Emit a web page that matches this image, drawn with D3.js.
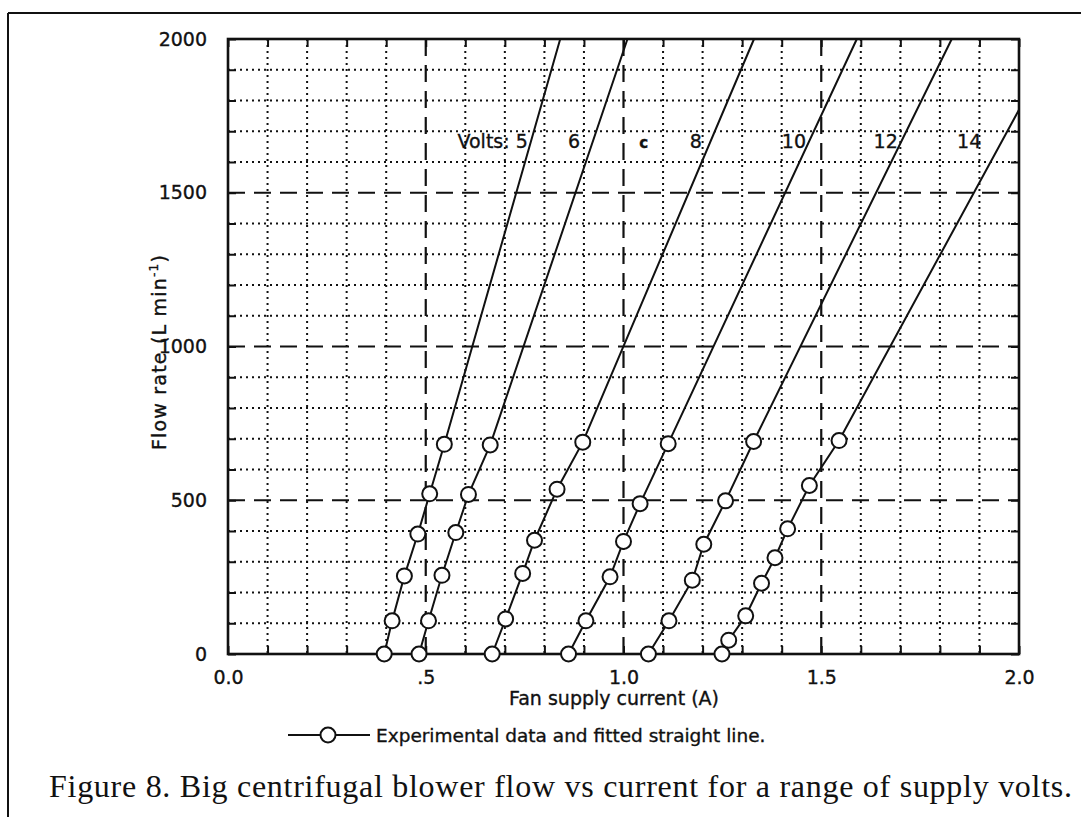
<!DOCTYPE html>
<html>
<head>
<meta charset="utf-8">
<script src="https://cdn.jsdelivr.net/npm/d3@7"></script>
<style>
  body { margin: 0; background: #fff; }
  text { font-family: "DejaVu Sans", "Liberation Sans", Arial, sans-serif; fill: #111; }
  text.sans { stroke: #111; stroke-width: 0.35px; }
</style>
</head>
<body>
<div id="chart"></div>
<script>
// values (current in A, flow in L/min)
const amps5 = [0.395, 0.415, 0.446, 0.480, 0.510, 0.547];
const flow5 = [0, 108, 254, 390, 521, 682];
const amps6 = [0.483, 0.507, 0.541, 0.576, 0.608, 0.663];
const flow6 = [0, 108, 256, 395, 519, 680];
const amps8 = [0.668, 0.702, 0.745, 0.775, 0.832, 0.897];
const flow8 = [0, 114, 262, 370, 536, 689];
const amps10 = [0.861, 0.905, 0.966, 1.0, 1.042, 1.113];
const flow10 = [0, 108, 251, 366, 489, 684];
const amps12 = [1.063, 1.115, 1.174, 1.203, 1.258, 1.329];
const flow12 = [0, 108, 240, 357, 498, 691];
const amps14 = [1.249, 1.266, 1.309, 1.349, 1.383, 1.415, 1.470, 1.545];
const flow14 = [0, 45, 124, 230, 313, 407, 548, 694];

// where each fitted straight line leaves the plot
const fitEndAmps = [0.84, 1.01, 1.33, 1.59, 1.83, 2.0];
const fitEndFlow = [2000, 2000, 2000, 2000, 2000, 1770];

const volts = [5, 6, 8, 10, 12, 14];

// curve labels
const labelText = ["Volts: 5", "6", "c", "8", "10", "12", "14"];
const labelAmps = [0.758, 0.875, 1.051, 1.183, 1.431, 1.663, 1.874];
const labelFlow = 1645;

const xTickValues = [0, 0.5, 1.0, 1.5, 2.0];
const xTickLabels = ["0.0", ".5", "1.0", "1.5", "2.0"];
const yTickValues = [0, 500, 1000, 1500, 2000];
const yTickLabels = ["0", "500", "1000", "1500", "2000"];

const W = 1081, H = 817;
const svg = d3.select("#chart").append("svg")
  .attr("width", W).attr("height", H);

// page frame (top and left edges of the scanned box)
svg.append("line").attr("x1", 8).attr("y1", 13).attr("x2", W).attr("y2", 13)
  .attr("stroke", "#111").attr("stroke-width", 2);
svg.append("line").attr("x1", 8).attr("y1", 13).attr("x2", 8).attr("y2", H)
  .attr("stroke", "#111").attr("stroke-width", 2);

const x = d3.scaleLinear().domain([0, 2]).range([228, 1019]);
const y = d3.scaleLinear().domain([0, 2000]).range([654, 39]);

// grid
const minorX = d3.range(1, 20).map(i => i / 10).filter(v => Math.round(v * 10) % 5 !== 0);
const majorX = [0.5, 1.0, 1.5];
const minorY = d3.range(1, 20).map(i => i * 100).filter(v => v % 500 !== 0);
const majorY = [500, 1000, 1500];

const grid = svg.append("g");
grid.selectAll(".vminor").data(minorX).join("line")
  .attr("x1", d => x(d)).attr("x2", d => x(d))
  .attr("y1", y(2000)).attr("y2", y(0))
  .attr("stroke", "#111").attr("stroke-width", 2).attr("stroke-dasharray", "2,4");
grid.selectAll(".hminor").data(minorY).join("line")
  .attr("x1", x(0)).attr("x2", x(2))
  .attr("y1", d => y(d)).attr("y2", d => y(d))
  .attr("stroke", "#111").attr("stroke-width", 2).attr("stroke-dasharray", "2,4");
grid.selectAll(".vmajor").data(majorX).join("line")
  .attr("x1", d => x(d)).attr("x2", d => x(d))
  .attr("y1", y(2000)).attr("y2", y(0))
  .attr("stroke", "#111").attr("stroke-width", 2.2).attr("stroke-dasharray", "17,9");
grid.selectAll(".hmajor").data(majorY).join("line")
  .attr("x1", x(0)).attr("x2", x(2))
  .attr("y1", d => y(d)).attr("y2", d => y(d))
  .attr("stroke", "#111").attr("stroke-width", 2.2).attr("stroke-dasharray", "17,9");

// inward ticks on all four sides
const allX = d3.range(0, 21).map(i => i / 10);
const allY = d3.range(0, 21).map(i => i * 100);
const tickLen = 8;

svg.append("g").attr("transform", `translate(0,${y(0)})`)
  .call(d3.axisBottom(x).tickValues(allX).tickSize(-tickLen).tickSizeOuter(0).tickPadding(17)
    .tickFormat(d => { const i = xTickValues.findIndex(v => Math.abs(v - d) < 1e-6); return i >= 0 ? xTickLabels[i] : ""; }));
svg.append("g").attr("transform", `translate(${x(0)},0)`)
  .call(d3.axisLeft(y).tickValues(allY).tickSize(-tickLen).tickSizeOuter(0).tickPadding(21)
    .tickFormat(d => { const i = yTickValues.indexOf(d); return i >= 0 ? yTickLabels[i] : ""; }));
svg.append("g").attr("transform", `translate(0,${y(2000)})`)
  .call(d3.axisTop(x).tickValues(allX).tickSize(-tickLen).tickSizeOuter(0).tickFormat(""));
svg.append("g").attr("transform", `translate(${x(2)},0)`)
  .call(d3.axisRight(y).tickValues(allY).tickSize(-tickLen).tickSizeOuter(0).tickFormat(""));

svg.selectAll(".domain").remove();
svg.selectAll(".tick line").attr("stroke", "#111").attr("stroke-width", 2);
svg.selectAll(".tick text")
  .attr("class", "sans")
  .style("font-family", "'DejaVu Sans', 'Liberation Sans', Arial, sans-serif")
  .style("font-size", "19px").attr("fill", "#111");

// plot frame
svg.append("rect")
  .attr("x", x(0)).attr("y", y(2000))
  .attr("width", x(2) - x(0)).attr("height", y(0) - y(2000))
  .attr("fill", "none").attr("stroke", "#111").attr("stroke-width", 2.6);

// series
const series = [
  { v: volts[0], a: amps5, f: flow5 },
  { v: volts[1], a: amps6, f: flow6 },
  { v: volts[2], a: amps8, f: flow8 },
  { v: volts[3], a: amps10, f: flow10 },
  { v: volts[4], a: amps12, f: flow12 },
  { v: volts[5], a: amps14, f: flow14 }
].map((s, i) => {
  s.pts = s.a.map((a, j) => ({ a: a, f: s.f[j] }));
  s.line = s.pts.concat([{ a: fitEndAmps[i], f: fitEndFlow[i] }]);
  return s;
});

const lineGen = d3.line().x(d => x(d.a)).y(d => y(d.f));
svg.append("g").selectAll("path").data(series).join("path")
  .attr("d", d => lineGen(d.line))
  .attr("fill", "none").attr("stroke", "#111").attr("stroke-width", 2);

svg.append("g").selectAll("g").data(series).join("g")
  .selectAll("circle").data(d => d.pts).join("circle")
  .attr("cx", d => x(d.a)).attr("cy", d => y(d.f)).attr("r", 7.5)
  .attr("fill", "#fff").attr("stroke", "#111").attr("stroke-width", 2);

// curve labels
svg.append("g").selectAll("text").data(labelText).join("text")
  .attr("class", "sans")
  .attr("x", (d, i) => x(labelAmps[i]))
  .attr("y", y(labelFlow))
  .attr("text-anchor", (d, i) => i === 0 ? "end" : "middle")
  .style("font-size", (d, i) => i === 2 ? "15px" : "19px")
  .style("font-weight", (d, i) => i === 2 ? "bold" : "normal")
  .text(d => d);

// axis titles
svg.append("text")
  .attr("class", "sans")
  .attr("x", 614).attr("y", 705)
  .attr("text-anchor", "middle")
  .style("font-size", "19px")
  .text("Fan supply current (A)");

const yt = svg.append("text")
  .attr("class", "sans")
  .attr("transform", "translate(166,352) rotate(-90)")
  .attr("text-anchor", "middle")
  .style("font-size", "19px").style("letter-spacing", "1.2px");
yt.append("tspan").text("Flow rate (L min");
yt.append("tspan").attr("dy", -8).style("font-size", "12px").text("-1");
yt.append("tspan").attr("dy", 8).text(")");

// legend
const lg = svg.append("g").attr("transform", "translate(0,735)");
lg.append("line").attr("x1", 288).attr("x2", 370).attr("y1", 0).attr("y2", 0)
  .attr("stroke", "#111").attr("stroke-width", 2);
lg.append("circle").attr("cx", 328).attr("cy", 0).attr("r", 7.5)
  .attr("fill", "#fff").attr("stroke", "#111").attr("stroke-width", 2);
lg.append("text").attr("class", "sans").attr("x", 376).attr("y", 7)
  .style("font-size", "18.5px")
  .text("Experimental data and fitted straight line.");

// caption
svg.append("text")
  .attr("x", 49).attr("y", 797)
  .attr("textLength", 1023).attr("lengthAdjust", "spacing")
  .style("font-family", "'Liberation Serif', 'DejaVu Serif', serif")
  .style("font-size", "32px")
  .text("Figure 8. Big centrifugal blower flow vs current for a range of supply volts.");
</script>
</body>
</html>
